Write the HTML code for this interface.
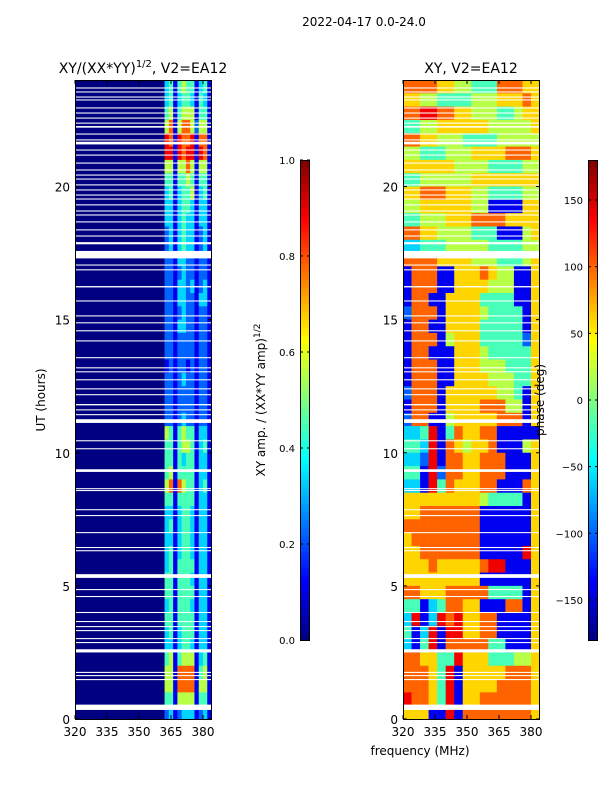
<!DOCTYPE html>
<html><head><meta charset="utf-8"><style>
html,body{margin:0;padding:0;background:#fff;}
svg{display:block;font-family:"DejaVu Sans","Liberation Sans",sans-serif;}
</style></head><body>
<svg id="fig" width="600" height="800" viewBox="0 0 600 800" xmlns="http://www.w3.org/2000/svg">
<text x="364" y="26" font-size="12" text-anchor="middle">2022-04-17 0.0-24.0</text>
<text x="143" y="73" font-size="14" text-anchor="middle">XY/(XX*YY)<tspan font-size="10" dy="-6">1/2</tspan><tspan dy="6">, V2=EA12</tspan></text>
<text x="471" y="73" font-size="14" text-anchor="middle">XY, V2=EA12</text>
<text x="0" y="0" font-size="12" text-anchor="middle" transform="translate(45,400) rotate(-90)">UT (hours)</text>
<text x="420" y="755" font-size="12" text-anchor="middle">frequency (MHz)</text>
<text x="0" y="0" font-size="12" text-anchor="middle" transform="translate(265,400) rotate(-90)">XY amp. / (XX*YY amp)<tspan font-size="9" dy="-5">1/2</tspan></text>
<g id="plots"></g>
<text x="0" y="0" font-size="12" text-anchor="middle" transform="translate(544,400) rotate(-90)">phase (deg)</text>
</svg>
<script>
// ---- data ----
const hourTicks = [0, 5, 10, 15, 20];
const freqTicks = [320, 335, 350, 365, 380];
const ampTicks = ["0.0", "0.2", "0.4", "0.6", "0.8", "1.0"];
const phaseTicks = [-150, -100, -50, 0, 50, 100, 150];
// left panel frequency bin edges (MHz): first bin is the quiet 320-362 region
const ampFreqEdges = [320, 362, 364, 366, 368, 370, 372, 374, 376, 378, 380, 382, 384];
// amplitude rows, top (23.5-24h) to bottom (0-0.5h), digit d -> d/9
const ampRows = [
"034145441341","034134431431","045145551441","057157752551",
"087187781771","088187881871","055155751551","044144541441",
"034134451341","033134431331","033134331331","023134331231",
"023134331231","022133221221","022123221221","022133231231",
"022133221331","022123221221","022133221221","022122221221",
"022122221221","012122121221","022123221221","022122221221",
"022122221221","022123221221","054145441331","044145541341",
"044143441331","045144441331","057175441341","044144441331",
"033134431331","034134431331","033134431331","034134431331",
"034144441331","044144431331","044144441331","034144431331",
"044144441331","034134441331","033134431331","045145551341",
"055177771451","055177771551","044155551441","023123331231"];
// phase panel: 16 bins of 4 MHz, digit d -> -180 + d*40
const phaseFreqStart = 320, phaseFreqStep = 4;
const phaseRows = [
"7777665544477766","6655444455566676","7788776655544566","4455666666555556",
"7766555444455555","5544455566667776","6666665555444455","4455555566666666",
"6677766655444455","5566666655111166","4455566677776666","7766555544411156",
"3344455555444455","7777666655544456","1777116667655116","1777116666555116",
"1771166664444116","2777166665444416","1771166664444416","1777156664444426",
"1771116665444446","1777116665554446","1777116666555446","2777166666655416",
"1777166667775516","2771156666677716","3348147667711111","4438176566711156",
"3328177667771116","4418277667771116","3318476667711176","6666666665444416",
"6677777771111116","7777777771111116","6777777771111116","6677777771111186",
"6667666667881116","6666666661111116","7766677777444416","4413477661117716",
"3813878667711116","4138188667711116","3148177777441116","7766448666444556",
"7776481666667776","7776481666677776","8776481667777776","6661181777777776"];
// missing-data intervals: start hour, duration (hours)
const gapStart = [23.68,23.53,23.34,23.23,22.93,22.74,22.55,22.36,22.21,21.95,21.73,21.58,21.35,21.16,20.86,20.60,20.41,20.26,20.04,19.85,19.66,19.51,19.29,19.06,18.91,18.65,18.35,18.12,17.83,17.30,17.03,16.85,16.21,15.68,15.12,14.86,14.56,14.18,13.55,13.17,13.02,12.72,12.38,12.16,11.78,11.59,11.41,11.12,10.43,10.13,9.28,8.63,8.56,7.84,7.62,6.98,6.42,6.30,5.30,4.84,4.58,3.98,3.64,3.45,3.30,3.00,2.85,2.50,1.73,1.61,1.46,0.34];
const gapDur = [0.04,0.04,0.04,0.04,0.04,0.04,0.04,0.04,0.06,0.04,0.04,0.1,0.04,0.04,0.04,0.04,0.04,0.04,0.04,0.04,0.04,0.04,0.04,0.04,0.04,0.04,0.04,0.04,0.08,0.28,0.04,0.04,0.05,0.04,0.04,0.04,0.04,0.04,0.04,0.04,0.04,0.04,0.04,0.04,0.05,0.04,0.04,0.14,0.04,0.04,0.1,0.04,0.04,0.04,0.04,0.04,0.04,0.04,0.14,0.04,0.04,0.04,0.04,0.04,0.04,0.04,0.04,0.12,0.04,0.04,0.04,0.2];

// ---- drawing ----
const NS = "http://www.w3.org/2000/svg";
const plots = document.getElementById('plots');
function mk(tag, attrs, parent){ const e = document.createElementNS(NS, tag); for (const k in attrs) e.setAttribute(k, attrs[k]); (parent||plots).appendChild(e); return e; }
function clamp(v){ return Math.max(0, Math.min(1, v)); }
function jet(v){
  const r = clamp(Math.min(4*v-1.5, -4*v+4.5)), g = clamp(Math.min(4*v-0.5, -4*v+3.5)), b = clamp(Math.min(4*v+0.5, -4*v+2.5));
  return `rgb(${Math.round(r*255)},${Math.round(g*255)},${Math.round(b*255)})`;
}
const yTop = 80, yBot = 719;
function yScale(h){ return yBot - (h/24)*(yBot-yTop); }
function makeX(x0){ return f => x0 + (f-320)*(128/60); }
const xL = makeX(75), xR = makeX(403);

function panel(name, x0, xs, drawCells){
  const g = mk('g', {});
  
  
  drawCells(g);
  gapStart.forEach((h, i) => {
    const r = mk('rect', {x: x0, y: yScale(h+gapDur[i]), width: 137, height: Math.max(1, yScale(h)-yScale(h+gapDur[i])), fill: '#fff'}, g);
    
    
  });
  const fr = mk('rect', {x: x0+0.5, y: yTop+0.5, width: 136, height: yBot-yTop, fill: 'none', stroke: '#000', 'stroke-width': 1}, g);
  
  
  hourTicks.forEach(h => {
    const y = yScale(h);
    mk('line', {x1: x0, x2: x0+4, y1: y, y2: y, stroke: '#000'}, g);
    mk('line', {x1: x0+137, x2: x0+133, y1: y, y2: y, stroke: '#000'}, g);
    const t = mk('text', {x: x0-5, y: y+5, 'font-size': 12, 'text-anchor': 'end'}, g);
    t.textContent = h;
    
    
  });
  freqTicks.forEach(f => {
    const x = xs(f);
    mk('line', {x1: x, x2: x, y1: yBot, y2: yBot-4, stroke: '#000'}, g);
    mk('line', {x1: x, x2: x, y1: yTop, y2: yTop+4, stroke: '#000'}, g);
    const t = mk('text', {x: x, y: yBot+17, 'font-size': 12, 'text-anchor': 'middle'}, g);
    t.textContent = f;
    
    
  });
}

const rowH = (yBot-yTop)/ampRows.length;
panel('amplitude-heatmap', 75, xL, g => {
  ampRows.forEach((row, r) => {
    for (let c = 0; c < ampFreqEdges.length-1; c++){
      const v = +row[c]/9;
      const x1 = xL(ampFreqEdges[c]), x2 = xL(ampFreqEdges[c+1]);
      const cell = mk('rect', {x: x1, y: yTop + r*rowH, width: x2-x1+0.3, height: rowH+0.3, fill: jet(v)}, g);
      
      
    }
  });
});
const prowH = (yBot-yTop)/phaseRows.length;
panel('phase-heatmap', 403, xR, g => {
  phaseRows.forEach((row, r) => {
    for (let c = 0; c < row.length; c++){
      const deg = -180 + (+row[c])*40;
      const x1 = xR(phaseFreqStart + c*phaseFreqStep), x2 = xR(phaseFreqStart + (c+1)*phaseFreqStep);
      const cell = mk('rect', {x: x1, y: yTop + r*prowH, width: Math.min(x2, 540)-x1+0.3, height: prowH+0.3, fill: jet((deg+180)/360)}, g);
      
      
    }
  });
});

function colorbar(name, x0, ticks, vToFrac){
  const g = mk('g', {});
  
  
  const N = 120, top = 160, bot = 640, h = (bot-top)/N;
  for (let i = 0; i < N; i++){
    mk('rect', {x: x0, y: bot-(i+1)*h, width: 9, height: h+0.3, fill: jet((i+0.5)/N)}, g);
  }
  mk('rect', {x: x0+0.5, y: top+0.5, width: 9, height: bot-top, fill: 'none', stroke: '#000'}, g);
  ticks.forEach(t => {
    const y = bot - vToFrac(t)*(bot-top);
    mk('line', {x1: x0, x2: x0+3, y1: y, y2: y, stroke: '#000'}, g);
    mk('line', {x1: x0+10, x2: x0+7, y1: y, y2: y, stroke: '#000'}, g);
    const tx = mk('text', {x: x0-5, y: y+4, 'font-size': 10, 'text-anchor': 'end'}, g);
    tx.textContent = t < 0 ? '\u2212' + Math.abs(t) : t;
    
    
  });
}
colorbar('amplitude-colorbar', 300, ampTicks, t => parseFloat(t));
colorbar('phase-colorbar', 588, phaseTicks, t => (t+180)/360);
</script>
</body></html>
